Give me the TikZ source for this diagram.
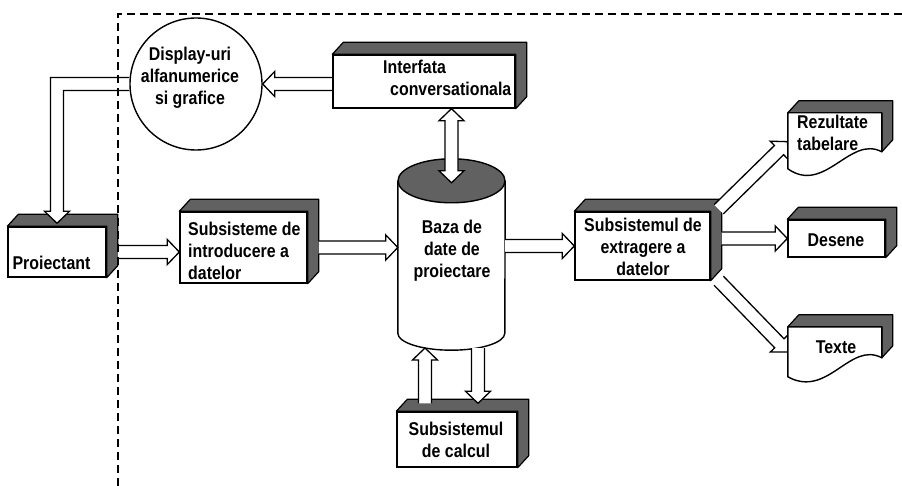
\documentclass[tikz,border=0pt]{standalone}
\usepackage{fontspec}
\newfontfamily\diagfont{Liberation Sans}[FakeStretch=0.86]
\usetikzlibrary{calc}
\pgfdeclarelayer{faces}
\pgfdeclarelayer{arrows}
\pgfdeclarelayer{top}
\pgfsetlayers{faces,arrows,main,top}

\tikzset{
  txt/.style={font=\diagfont\bfseries\fontsize{18.5}{22}\selectfont, inner sep=0pt},
  frontface/.style={draw, fill=white, line width=1.4pt, inner sep=0pt},
  docface/.style={draw, fill=white, line width=1.4pt, line join=round},
  face/.style={fill=black!62, draw=black, line width=1.2pt, line join=round},
  arrowbody/.style={fill=white, line width=1.3pt, line join=miter},
  border/.style={dash pattern=on 8pt off 5pt, line width=1.4pt}
}

% top and right faces of a raised box
\newcommand\sidefaces[1]{%
  \draw[face] (#1.north west) -- ++(11pt,12pt) -- ([shift={(11pt,12pt)}]#1.north east)
    -- ([shift={(11pt,12pt)}]#1.south east) -- (#1.south east) -- (#1.north east) -- cycle;}

% hollow block arrow between two points; optional argument 2 gives two heads
\newcommand\hollowarrow[3][1]{%
  \path #2 coordinate (ha-s) #3 coordinate (ha-e);
  \pgfmathanglebetweenpoints{\pgfpointanchor{ha-s}{center}}{\pgfpointanchor{ha-e}{center}}%
  \let\haang\pgfmathresult
  \pgfpointdiff{\pgfpointanchor{ha-s}{center}}{\pgfpointanchor{ha-e}{center}}%
  \pgfgetlastxy{\hadx}{\hady}%
  \pgfmathsetmacro\halen{veclen(\hadx,\hady)}%
  \begin{scope}[shift={(ha-s)}, rotate=\haang]
    \ifnum#1=1
      \filldraw[arrowbody] (0pt,-6.5pt) -- (\halen pt-12pt,-6.5pt) -- (\halen pt-12pt,-12.5pt)
        -- (\halen pt,0pt) -- (\halen pt-12pt,12.5pt) -- (\halen pt-12pt,6.5pt) -- (0pt,6.5pt);
    \else
      \filldraw[arrowbody] (12pt,-6.5pt) -- (\halen pt-12pt,-6.5pt) -- (\halen pt-12pt,-12.5pt)
        -- (\halen pt,0pt) -- (\halen pt-12pt,12.5pt) -- (\halen pt-12pt,6.5pt) -- (12pt,6.5pt)
        -- (12pt,12.5pt) -- (0pt,0pt) -- (12pt,-12.5pt) -- cycle;
    \fi
  \end{scope}}

\begin{document}
\begin{tikzpicture}[x=1pt, y=-1pt]
\useasboundingbox (0,0) rectangle (902,486);

% front faces and shapes
\node[frontface, minimum width=98pt, minimum height=50pt] (proi) at (57,252) {};
\node[frontface, minimum width=127pt, minimum height=71pt] (intro) at (243.5,247.5) {};
\node[frontface, minimum width=182pt, minimum height=53pt] (interf) at (424,81.5) {};
\node[frontface, minimum width=135pt, minimum height=68pt] (extr) at (642.5,246) {};
\node[frontface, minimum width=97pt, minimum height=37pt] (desene) at (836.5,238.5) {};
\node[frontface, minimum width=120pt, minimum height=55pt] (calcul) at (457,439.5) {};
\node[minimum width=94pt, minimum height=57pt, inner sep=0pt] (rez) at (835,141.5) {};
\node[minimum width=94pt, minimum height=50pt, inner sep=0pt] (texte) at (835,352) {};
\node[minimum width=107pt, minimum height=152pt, inner sep=0pt] (db) at (451.5,257) {};
\node[circle, draw, fill=white, line width=1.4pt, minimum size=132pt, inner sep=0pt] (circ) at (196,84) {};

% document sheets
\begin{scope}[shift={(rez.north west)}]
  \draw[docface] (0,0) -- (94,0) -- (94,39) .. controls (62,22) and (37,82) .. (0,56) -- cycle;
\end{scope}
\begin{scope}[shift={(texte.north west)}]
  \draw[docface] (0,0) -- (94,0) -- (94,31) .. controls (62,14) and (40,72) .. (0,50) -- cycle;
\end{scope}

% labels
\node[txt, anchor=base] (proi-t) at (51.5,270) {Proiectant};
\node[txt, anchor=north, align=center] (circ-t) at (190,47) {Display-uri\\alfanumerice\\si grafice};
\node[txt, anchor=north west, align=left] (intro-t) at (188,222) {Subsisteme de\\introducere a\\datelor};
\node[txt, anchor=north west, align=left] (interf-t) at (383,60) {Interfata\\\hspace*{7pt}conversationala};
\node[txt, anchor=north, align=center] (db-t) at (452,220) {Baza de\\date de\\proiectare};
\node[txt, anchor=north, align=center] (extr-t) at (643,218) {Subsistemul de\\extragere a\\datelor};
\node[txt, anchor=base] (desene-t) at (836,247) {Desene};
\node[txt, anchor=north west, align=left] (rez-t) at (797,115) {Rezultate\\tabelare};
\node[txt, anchor=base] (texte-t) at (836,353) {Texte};
\node[txt, anchor=north, align=center] (calcul-t) at (456,422) {Subsistemul\\de calcul};

% shaded depth faces and the database cylinder
\begin{pgfonlayer}{faces}
  \sidefaces{proi}
  \sidefaces{intro}
  \sidefaces{interf}
  \sidefaces{extr}
  \sidefaces{desene}
  \sidefaces{calcul}
  \begin{scope}[shift={(rez.north west)}]
    \draw[face] (0,0) -- (11,-12) -- (105,-12) -- (105,27) -- (94,39) -- (94,0) -- cycle;
  \end{scope}
  \begin{scope}[shift={(texte.north west)}]
    \draw[face] (0,0) -- (11,-12) -- (105,-12) -- (105,19) -- (94,31) -- (94,0) -- cycle;
  \end{scope}
  \fill[white] (db.north west) -- (db.south west)
    arc[start angle=180, end angle=360, x radius=53.5pt, y radius=17pt] -- (db.north east) -- cycle;
  \draw[line width=1.4pt] (db.north west) -- (db.south west)
    arc[start angle=180, end angle=360, x radius=53.5pt, y radius=17pt] -- (db.north east);
  \draw[face, line width=1.4pt] (db.north) ellipse[x radius=53.5pt, y radius=22pt];
\end{pgfonlayer}

% block arrows
\begin{pgfonlayer}{arrows}
  \coordinate (extr-r) at ([xshift=11pt]extr.east);
  \hollowarrow{([xshift=11pt]proi.east)}{(intro.west |- proi.east)}
  \hollowarrow{([xshift=11pt]intro.east)}{(db.west |- intro.east)}
  \hollowarrow{(db.east |- extr.west)}{(extr.west)}
  \hollowarrow{(extr-r |- desene.west)}{(desene.west)}
  \hollowarrow{([shift={(8pt,2pt)}]extr.north east)}{(rez.west)}
  \hollowarrow{([shift={(8pt,0pt)}]extr.south east)}{(texte.west)}
  \hollowarrow{(interf.west |- circ.east)}{(circ.east)}
  \hollowarrow[2]{(db.north |- interf.south)}{([yshift=-2pt]db.north)}
  \hollowarrow{([shift={(-32pt,8pt)}]calcul.north)}{([shift={(-26.5pt,-14.8pt)}]db.south)}
  \hollowarrow{([shift={(26.5pt,-14.8pt)}]db.south)}{([shift={(21pt,8pt)}]calcul.north)}
  % elbow arrow from the displays down to the designer
  \coordinate (bend) at (proi.north |- circ.west);
  \coordinate (tip) at ([yshift=3pt]proi.north);
  \filldraw[arrowbody] ([yshift=6.5pt]circ.west) -- ([shift={(-6.5pt,6.5pt)}]bend)
    -- ([shift={(-6.5pt,12pt)}]tip) -- ([shift={(-12.5pt,12pt)}]tip) -- (tip)
    -- ([shift={(12.5pt,12pt)}]tip) -- ([shift={(6.5pt,12pt)}]tip)
    -- ([shift={(6.5pt,-6.5pt)}]bend) -- ([yshift=-6.5pt]circ.west);
\end{pgfonlayer}

% system boundary
\begin{pgfonlayer}{top}
  \coordinate (bl) at (118,486);
  \coordinate (tl) at (118,14);
  \coordinate (tr) at (902,14);
  \draw[border] (bl) -- (tl) -- (tr);
\end{pgfonlayer}
\end{tikzpicture}
\end{document}
